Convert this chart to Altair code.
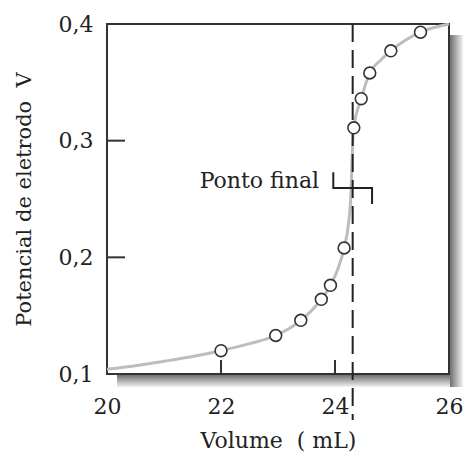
import altair as alt
import pandas as pd

# Titration data: measured points and the smooth titration curve
vol_pts = [22.0, 22.96, 23.40, 23.76, 23.92, 24.16, 24.33, 24.46, 24.61, 24.98, 25.50]
pot_pts = [0.120, 0.133, 0.146, 0.164, 0.176, 0.208, 0.311, 0.336, 0.358, 0.377, 0.393]

curve_vol = [20.0, 20.5, 21.0, 21.5, 22.0, 22.5, 22.96, 23.40, 23.76, 23.92, 24.05,
             24.16, 24.24, 24.28, 24.30, 24.33, 24.46, 24.61, 24.80, 24.98, 25.50, 26.0]
curve_pot = [0.104, 0.107, 0.111, 0.115, 0.120, 0.126, 0.133, 0.146, 0.164, 0.176, 0.190,
             0.208, 0.230, 0.255, 0.285, 0.311, 0.336, 0.358, 0.369, 0.377, 0.393, 0.400]

end_point = 24.31
bracket_vol = [23.97, 23.97, 24.65, 24.65]
bracket_pot = [0.273, 0.2594, 0.2594, 0.2457]

x_ticks = [20, 22, 24, 26]
y_ticks = [0.1, 0.2, 0.3, 0.4]

FONT = "DejaVu Serif"
INK = "#222222"
NB = "\u00a0"

pts = pd.DataFrame({"v": vol_pts, "e": pot_pts})
curve = pd.DataFrame({"v": curve_vol, "e": curve_pot})
bracket = pd.DataFrame({"v": bracket_vol, "e": bracket_pot, "i": list(range(len(bracket_vol)))})

xscale = alt.Scale(domain=[20, 26], nice=False, zero=False)
yscale = alt.Scale(domain=[0.1, 0.4], nice=False, zero=False)

xaxis = alt.Axis(values=x_ticks, format="d", ticks=False, tickSize=0, grid=False, domain=False,
                 labelFlush=False, labelOverlap=False,
                 labelPadding=22, labelFontSize=22, labelFont=FONT, labelColor=INK,
                 title=f"Volume{NB}{NB}({NB}mL)", titleFont=FONT, titleFontSize=22,
                 titleFontWeight="normal", titleColor=INK, titlePadding=13)
yaxis = alt.Axis(values=y_ticks, format=".1f", labelExpr="replace(datum.label, '.', ',')",
                 ticks=False, tickSize=0, grid=False, domain=False,
                 labelFlush=False, labelOverlap=False,
                 labelPadding=14, labelFontSize=22, labelFont=FONT, labelColor=INK,
                 title=f"Potencial de eletrodo{NB}{NB}V", titleFont=FONT, titleFontSize=21,
                 titleFontWeight="normal", titleColor=INK, titlePadding=24)

W, H = 342, 350

# drop shadow along bottom and right edges of the frame
shadow_bottom = alt.Chart(pd.DataFrame({"a": [0]})).mark_rect(
    clip=False,
    color=alt.LinearGradient(gradient="linear", x1=0, y1=0, x2=0, y2=1,
                             stops=[alt.GradientStop(color="#707070", offset=0),
                                    alt.GradientStop(color="#f2f2f2", offset=1)])
).encode(x=alt.value(10), x2=alt.value(W + 14), y=alt.value(H + 1), y2=alt.value(H + 13))

shadow_right = alt.Chart(pd.DataFrame({"a": [0]})).mark_rect(
    clip=False,
    color=alt.LinearGradient(gradient="linear", x1=0, y1=0, x2=1, y2=0,
                             stops=[alt.GradientStop(color="#707070", offset=0),
                                    alt.GradientStop(color="#f2f2f2", offset=1)])
).encode(x=alt.value(W + 1), x2=alt.value(W + 14), y=alt.value(11), y2=alt.value(H + 13))

line = alt.Chart(curve).mark_line(color="#bdbdbd", strokeWidth=3, interpolate="monotone").encode(
    x=alt.X("v:Q", scale=xscale, axis=xaxis),
    y=alt.Y("e:Q", scale=yscale, axis=yaxis),
)

# inward ticks
xt = alt.Chart(pd.DataFrame({"v": [22, 24]})).mark_rule(color="#333", strokeWidth=2).encode(
    x=alt.X("v:Q", scale=xscale), y=alt.value(H - 14), y2=alt.value(H))
yt = alt.Chart(pd.DataFrame({"e": [0.2, 0.3]})).mark_rule(color="#333", strokeWidth=2).encode(
    y=alt.Y("e:Q", scale=yscale), x=alt.value(0), x2=alt.value(18))

dash = alt.Chart(pd.DataFrame({"v": [end_point]})).mark_rule(
    color="#222", strokeWidth=2, strokeDash=[18, 8], clip=False).encode(
    x=alt.X("v:Q", scale=xscale), y=alt.value(0), y2=alt.value(396))

brk = alt.Chart(bracket).mark_line(color="#222", strokeWidth=2, interpolate="linear").encode(
    x=alt.X("v:Q", scale=xscale), y=alt.Y("e:Q", scale=yscale), order="i:O")

label = alt.Chart(pd.DataFrame({"v": [23.72], "e": [0.2594], "t": ["Ponto final"]})).mark_text(
    font=FONT, fontSize=22, color=INK, align="right", baseline="alphabetic").encode(
    x=alt.X("v:Q", scale=xscale), y=alt.Y("e:Q", scale=yscale), text="t:N")

points = alt.Chart(pts).mark_point(shape="circle", filled=False, fill="white", fillOpacity=1,
                                   color="#333", strokeWidth=1.6, size=140, opacity=1).encode(
    x=alt.X("v:Q", scale=xscale), y=alt.Y("e:Q", scale=yscale))

chart = alt.layer(shadow_bottom, shadow_right, line, xt, yt, dash, brk, label, points).properties(
    width=W, height=H,
    autosize=alt.AutoSizeParams(type="none"),
    padding={"left": 107, "top": 24, "right": 18, "bottom": 91},
    background="white",
).configure_view(stroke="#333", strokeWidth=2)

chart.save("out.html", embed_options={"renderer": "svg", "actions": False})
